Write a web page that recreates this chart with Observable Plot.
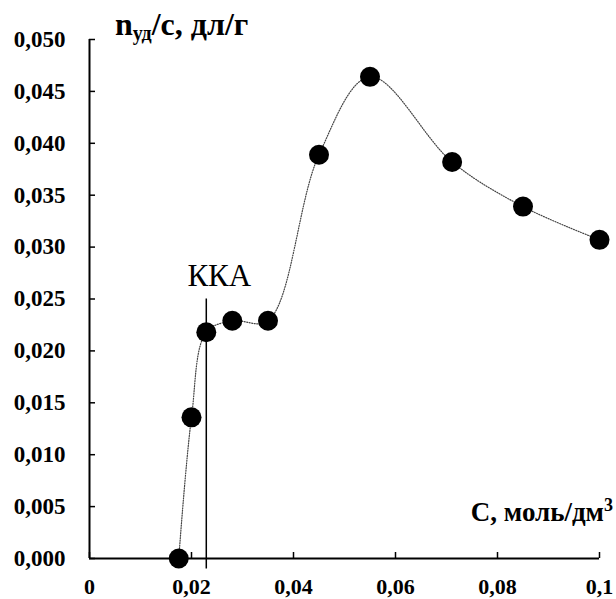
<!DOCTYPE html>
<html>
<head>
<meta charset="utf-8">
<script src="https://cdn.jsdelivr.net/npm/d3@7"></script>
<script src="https://cdn.jsdelivr.net/npm/@observablehq/plot@0.6"></script>
<style>
  body { margin: 0; background: #fff; }
  #wrap { position: relative; width: 616px; height: 599px; font-family: "Liberation Serif", "Times New Roman", serif; }
  #wrap svg { position: absolute; left: 0; top: 0; }
  .lbl { position: absolute; font-weight: bold; line-height: 1; white-space: nowrap; color: #000; }
  #ytitle { left: 115px; top: 8px; font-size: 32px; }
  #ytitle sub { font-size: 20px; vertical-align: -5px; line-height: 0; }
  #xtitle { right: 3px; top: 499px; font-size: 27px; }
  #xtitle sup { font-size: 18px; vertical-align: 10px; line-height: 0; }
</style>
</head>
<body>
<div id="wrap">
  <div class="lbl" id="ytitle">n<sub>уд</sub>/с, дл/г</div>
  <div class="lbl" id="xtitle">С, моль/дм<sup>3</sup></div>
</div>
<script>
// Data
const concentration = [0.0175, 0.0200, 0.0229, 0.0280, 0.0350, 0.0450, 0.0550, 0.0711, 0.0850, 0.1000];
const viscosity     = [0.0000, 0.0136, 0.0218, 0.0229, 0.0229, 0.0389, 0.0464, 0.0382, 0.0339, 0.0307];

const xTicks = [0, 0.02, 0.04, 0.06, 0.08, 0.1];
const xTickLabels = ["0", "0,02", "0,04", "0,06", "0,08", "0,1"];
const yTicks = [0, 0.005, 0.010, 0.015, 0.020, 0.025, 0.030, 0.035, 0.040, 0.045, 0.050];
const yTickLabels = ["0,000", "0,005", "0,010", "0,015", "0,020", "0,025", "0,030", "0,035", "0,040", "0,045", "0,050"];

const ccaX = [0.0229];
const ccaRange = [-0.001, 0.025];
const ccaLabel = ["ККА"];

const points = concentration.map((c, i) => ({c, v: viscosity[i]}));

const chart = Plot.plot({
  width: 616,
  height: 599,
  marginLeft: 89,
  marginRight: 17,
  marginTop: 39,
  marginBottom: 41,
  x: {domain: [0, 0.1], axis: null},
  y: {domain: [0, 0.05], axis: null},
  style: {fontFamily: "'Liberation Serif', 'Times New Roman', serif", background: "transparent", color: "#000"},
  marks: [
    // axis lines
    Plot.ruleX([0], {y1: 0, y2: 0.05, stroke: "#000", strokeWidth: 2}),
    Plot.ruleY([0], {x1: 0, x2: 0.1, stroke: "#000", strokeWidth: 2}),
    // inward ticks
    Plot.ruleY(yTicks, {y: d => d, x1: 0, x2: 0, insetRight: -6, stroke: "#000", strokeWidth: 1.5}),
    Plot.ruleX(xTicks, {x: d => d, y1: 0, y2: 0, insetTop: -6, stroke: "#000", strokeWidth: 1.5}),
    // tick labels
    Plot.text(yTicks, {x: 0, y: d => d, text: (d, i) => yTickLabels[i], textAnchor: "end", dx: -24, fontWeight: "bold", fontSize: 23}),
    Plot.text(xTicks, {x: d => d, y: 0, text: (d, i) => xTickLabels[i], dy: 28, fontWeight: "bold", fontSize: 22}),
    // CCA line
    Plot.ruleX(ccaX, {x: d => d, y1: ccaRange[0], y2: ccaRange[1], stroke: "#000", strokeWidth: 1.5}),
    Plot.text(ccaLabel, {x: ccaX[0], y: ccaRange[1], text: d => d, dx: 13, dy: -23, fontSize: 31}),
    // smooth dotted curve
    Plot.line(points, {x: "c", y: "v", curve: "catmull-rom", stroke: "#444", strokeWidth: 1.2, strokeDasharray: "1 1.5"}),
    // points
    Plot.dot(points, {x: "c", y: "v", r: 10, fill: "#000", stroke: "none"})
  ]
});
document.getElementById("wrap").prepend(chart);
</script>
</body>
</html>
